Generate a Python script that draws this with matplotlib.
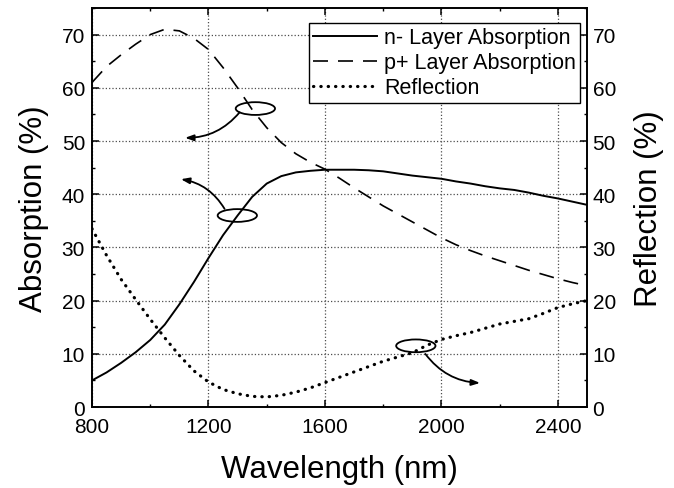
import matplotlib
matplotlib.use('Agg')
import numpy as np
from matplotlib import pyplot as plt
from matplotlib.patches import Ellipse
from matplotlib.ticker import MultipleLocator

plt.rcParams['font.family'] = ['Liberation Sans', 'DejaVu Sans']

# wavelength grids (nm)
wl = [800, 850, 900, 950, 1000, 1050, 1100, 1150, 1200, 1250, 1300, 1350, 1400,
      1450, 1500, 1550, 1600, 1650, 1700, 1750, 1800, 1850, 1900, 1950, 2000,
      2050, 2100, 2150, 2200, 2250, 2300, 2350, 2400, 2450, 2500]

n_layer = [5.0, 6.5, 8.3, 10.3, 12.6, 15.5, 19.3, 23.5, 28.0, 32.3, 36.0, 39.5, 42.0,
           43.4, 44.1, 44.4, 44.6, 44.6, 44.6, 44.5, 44.3, 43.9, 43.5, 43.2, 42.9,
           42.4, 42.0, 41.5, 41.1, 40.8, 40.3, 39.7, 39.2, 38.6, 38.0]

p_layer = [61.0, 64.0, 66.2, 68.2, 70.0, 71.0, 70.7, 69.3, 67.2, 63.8, 60.0, 55.9, 52.5,
           49.7, 47.6, 46.0, 44.7, 43.0, 41.2, 39.5, 37.8, 36.3, 34.8, 33.3, 31.8,
           30.5, 29.4, 28.4, 27.5, 26.6, 25.7, 24.9, 24.1, 23.4, 22.8]

reflection = [33.5, 28.5, 24.0, 20.2, 16.5, 13.0, 9.7, 6.8, 4.7, 3.3, 2.5, 2.0, 1.9,
              2.2, 2.8, 3.6, 4.6, 5.6, 6.6, 7.6, 8.6, 9.4, 10.2, 11.6, 12.7,
              13.4, 14.0, 14.8, 15.6, 16.1, 16.6, 17.6, 18.7, 19.4, 20.0]

fig = plt.figure(figsize=(6.74, 4.89), dpi=100)
ax = fig.add_axes([0.1365, 0.1656, 0.7345, 0.816])
ax2 = ax.twinx()

l1, = ax.plot(wl, n_layer, color='black', lw=1.4, label='n- Layer Absorption')
l2, = ax.plot(wl, p_layer, color='black', lw=1.2, linestyle=(0, (9, 6)),
              label='p+ Layer Absorption')
l3, = ax2.plot(wl, reflection, color='black', lw=2.3, linestyle=(0, (0.1, 2.2)),
               dash_capstyle='round', label='Reflection')

for a in (ax, ax2):
    a.set_xlim(800, 2500)
    a.set_ylim(0, 75)
    a.yaxis.set_major_locator(MultipleLocator(10))
    a.yaxis.set_minor_locator(MultipleLocator(5))
    for s in a.spines.values():
        s.set_linewidth(1.2)

ax.xaxis.set_major_locator(MultipleLocator(400))
ax.xaxis.set_minor_locator(MultipleLocator(200))
ax.tick_params(axis='both', which='major', direction='in', length=5, width=1.1,
               labelsize=15, top=True)
ax.tick_params(axis='both', which='minor', direction='in', length=2.5, width=1.0, top=True)
ax.tick_params(axis='x', which='major', pad=7)
ax.tick_params(axis='y', which='major', pad=5)
ax2.tick_params(axis='y', which='major', direction='in', length=5, width=1.1,
                labelsize=15, pad=4)
ax2.tick_params(axis='y', which='minor', direction='in', length=2.5, width=1.0)

ax.grid(True, which='major', linestyle=':', color='0.3', linewidth=0.9)

ax.set_xlabel('Wavelength (nm)', fontsize=22.5, labelpad=13)
ax.set_ylabel('Absorption (%)', fontsize=22.5, labelpad=9)
ax2.set_ylabel('Reflection (%)', fontsize=22.5, labelpad=13)

# ellipses marking curves with arrows to their axis
ells = [(1361, 56.1), (1299, 36.0), (1912, 11.5)]
for cx, cy in ells:
    ax.add_patch(Ellipse((cx, cy), 135, 2.4, fill=False, edgecolor='black', lw=1.3))

arw = dict(arrowstyle='-|>,head_length=0.5,head_width=0.18', color='black', lw=1.3)
ax.annotate('', xy=(1110, 50.6), xytext=(1313, 55.8),
            arrowprops=dict(arw, connectionstyle='arc3,rad=-0.25'))
ax.annotate('', xy=(1096, 42.9), xytext=(1260, 36.8),
            arrowprops=dict(arw, connectionstyle='arc3,rad=0.25'))
ax.annotate('', xy=(2142, 4.5), xytext=(1939, 10.4),
            arrowprops=dict(arw, connectionstyle='arc3,rad=0.25'))

leg = ax2.legend(handles=[l1, l2, l3], loc='upper right', bbox_to_anchor=(0.986, 0.962),
                 fontsize=15.5, frameon=True, fancybox=False, edgecolor='black',
                 framealpha=1, handlelength=3.0, handletextpad=0.3, labelspacing=0.18,
                 borderpad=0.2, borderaxespad=0)
leg.get_frame().set_linewidth(1.0)

fig.savefig('out.png', dpi=100)
